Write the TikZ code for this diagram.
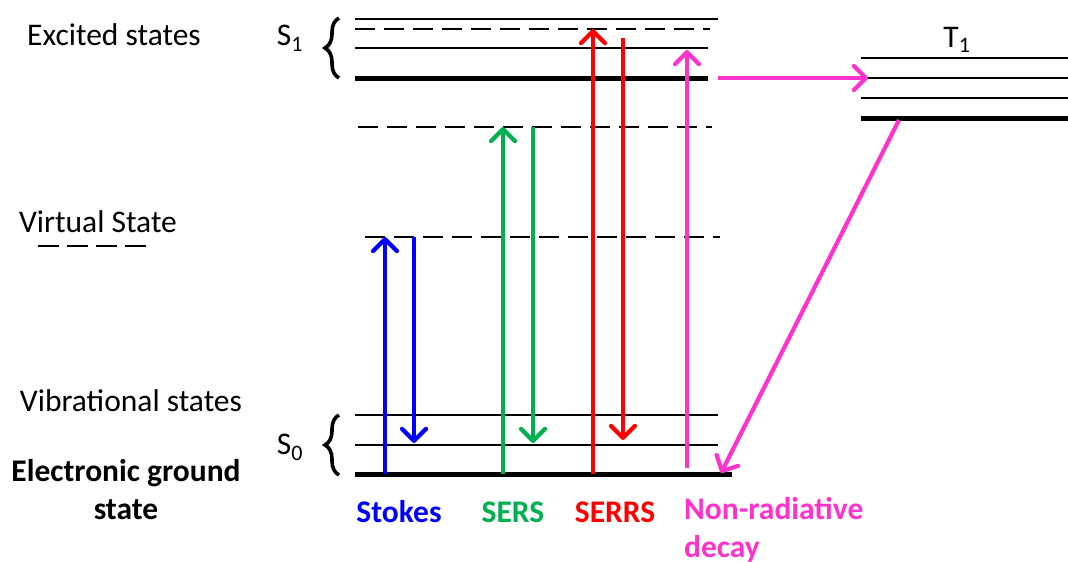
\documentclass[tikz,border=0pt]{standalone}
\usepackage{fontspec}
\setmainfont{Carlito}
\usetikzlibrary{arrows.meta,decorations.pathreplacing}
\definecolor{cblue}{HTML}{0000FF}
\definecolor{cgreen}{HTML}{00B050}
\definecolor{cred}{HTML}{FF0000}
\definecolor{cmag}{HTML}{FF33CC}
\tikzset{
  lvl/.style={line width=2.2pt, black},
  thicklvl/.style={line width=5pt, black},
  dlvl/.style={line width=2.2pt, black, dash pattern=on 20pt off 9pt},
  trans/.style={line width=4.2pt, -{Straight Barb[length=12pt,width=24pt,line width=4.2pt,round]}},
  lbl/.style={inner sep=0pt, font=\fontsize{31.5}{38}\selectfont},
  blbl/.style={inner sep=0pt, font=\fontsize{31.5}{38}\selectfont\bfseries, align=center},
  br/.style={line width=3.6pt, decorate, decoration={brace, amplitude=14pt}}
}
\begin{document}
\begin{tikzpicture}[x=1pt,y=-1pt]
\useasboundingbox (0,0) rectangle (1068,562);
% S1 levels
\draw[lvl] (355,19) -- (718,19);
\draw[dlvl] (355,29) -- (710,29);
\draw[lvl] (355,48) -- (708,48);
\draw[thicklvl] (355,78) -- (708,78);
% intermediate virtual levels
\draw[dlvl] (358,127) -- (712,127);
\draw[dlvl] (365,237) -- (720,237);
% S0 levels
\draw[lvl] (355,415) -- (718,415);
\draw[lvl] (355,445) -- (718,445);
\draw[thicklvl] (355,474) -- (732,474);
% T1 levels
\draw[lvl] (861,58) -- (1068,58);
\draw[lvl] (861,78) -- (1068,78);
\draw[lvl] (861,98) -- (1068,98);
\draw[thicklvl] (861,118) -- (1068,118);
% braces
\draw[br] (339,78) -- (339,18);
\draw[br] (339,475) -- (339,415);
% labels
\node[lbl] (exc) at (114,35) {Excited states};
\node[lbl] (virt) at (98,222) {Virtual State};
\draw[lvl, dash pattern=on 21pt off 8pt] (38,246) -- (150,246);
\node[lbl] (vib) at (131,401) {Vibrational states};
\node[blbl] (egs) at (126,490) {Electronic ground\\state};
\node[lbl] (s1) at (290,38) {S\textsubscript{1}};
\node[lbl] (s0) at (290,447) {S\textsubscript{0}};
\node[lbl] (t1) at (957,40) {T\textsubscript{1}};
\node[blbl, text=cblue] (stokes) at (399,512) {Stokes};
\node[blbl, text=cgreen] (sers) at (513,512) {SERS};
\node[blbl, text=cred] (serrs) at (615,512) {SERRS};
\node[blbl, text=cmag, anchor=north west, align=left] (nrd) at (684,497) {Non-radiative\\decay};
% transition coordinates
\coordinate (bu0) at (385,474); \coordinate (bu1) at (385,237);
\coordinate (bd0) at (414,237); \coordinate (bd1) at (414,443);
\coordinate (gu0) at (503,474); \coordinate (gu1) at (503,127);
\coordinate (gd0) at (533,127); \coordinate (gd1) at (533,443);
\coordinate (ru0) at (593,474); \coordinate (ru1) at (593,29);
\coordinate (rd0) at (623,38);  \coordinate (rd1) at (623,440);
\coordinate (mu0) at (687,468); \coordinate (mu1) at (687,50);
\coordinate (mh0) at (718,78);  \coordinate (mh1) at (868,78);
\coordinate (md0) at (899,120); \coordinate (md1) at (721,473);
% transitions
\draw[trans, cblue] (bu0) -- (bu1);
\draw[trans, cblue] (bd0) -- (bd1);
\draw[trans, cgreen] (gu0) -- (gu1);
\draw[trans, cgreen] (gd0) -- (gd1);
\draw[trans, cred] (ru0) -- (ru1);
\draw[trans, cred] (rd0) -- (rd1);
\draw[trans, cmag] (mu0) -- (mu1);
\draw[trans, cmag] (mh0) -- (mh1);
\draw[trans, cmag] (md0) -- (md1);
\end{tikzpicture}
\end{document}
